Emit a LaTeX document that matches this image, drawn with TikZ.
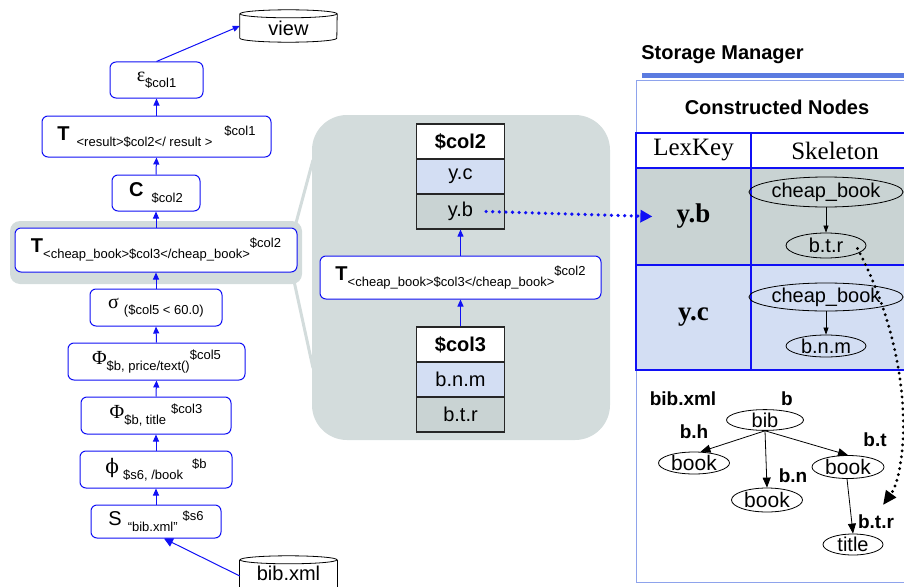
\documentclass[tikz,border=0pt]{standalone}
\usepackage{fontspec}
\setmainfont{Liberation Sans}
\newfontfamily\grk{Liberation Serif}
\newfontfamily\dvs{DejaVu Serif}
\usetikzlibrary{arrows.meta,shapes.geometric}
\definecolor{panel}{HTML}{D3DCDC}
\definecolor{cellgrey}{HTML}{C9D3D3}
\definecolor{cellblue}{HTML}{D3DEF3}
\definecolor{opblue}{HTML}{1010F5}
\definecolor{barblue}{HTML}{5B7BE0}
\definecolor{frameblue}{HTML}{8EA3EC}
\newcommand\fs[1]{\fontsize{#1}{#1}\selectfont}
\newcommand\subx[1]{\raisebox{-6pt}{\fs{13}#1}}
\newcommand\supx[1]{\raisebox{5pt}{\fs{13}#1}}
\begin{document}
\begin{tikzpicture}[x=1pt,y=-1pt,
 op/.style={draw=opblue, line width=1pt, rounded corners=6pt, fill=white, inner sep=0pt, font=\fs{20}},
 flow/.style={opblue, line width=1pt, -{Triangle[length=7pt,width=6pt]}},
 cell/.style={draw=black!85, line width=1.2pt, minimum width=88pt, minimum height=35pt, inner sep=0pt, font=\fs{20}},
 smcell/.style={draw=opblue, line width=1.2pt, inner sep=0pt},
 ell/.style={ellipse, draw, line width=0.8pt, inner sep=0pt, font=\fs{20}},
 tarr/.style={-{Triangle[length=10pt,width=8pt]}, line width=0.8pt},
 lab/.style={font=\bfseries\fs{19}, inner sep=0pt},
 drum/.style={minimum width=97pt, inner sep=0pt, font=\fs{20}},
]
\useasboundingbox (0,0) rectangle (904,586);
\clip (0,0) rectangle (904,586);

% ---------- middle panel and its link to the highlighted operator
\fill[panel, rounded corners=35pt] (312,115) rectangle (610,440);
\draw[panel, line width=3pt] (296,223) -- (313,160);
\draw[panel, line width=3pt] (294,281) -- (313,368);
\fill[panel, rounded corners=10pt] (10,221) rectangle (302,284);

% ---------- left operator column
\node[drum, minimum height=24pt] (view) at (288.5,26) {};
\draw[fill=white, line width=0.8pt] (view.north west) -- (view.south west)
  arc[start angle=180, end angle=0, x radius=48.5, y radius=4] -- (view.north east);
\draw[line width=0.8pt] (view.north) ellipse[x radius=48.5, y radius=4];
\node[drum] at ([yshift=-2pt]view) {view};

\node[op, minimum width=93pt, minimum height=36pt] (eps) at (156.5,80)
  {{\grk ε}\subx{\$col1}};
\node[op, minimum width=229pt, minimum height=41pt] (tres) at (156.5,136.5)
  {\textbf{T}\hspace{7pt}\subx{<result>\$col2</ result >}\hspace{12pt}\supx{\$col1}};
\node[op, minimum width=88pt, minimum height=36pt] (cc) at (156,193)
  {\textbf{C}\hspace{8pt}\subx{\$col2}};
\node[op, minimum width=282pt, minimum height=44pt] (tcb) at (156,250)
  {\textbf{T}\subx{<cheap\_book>\$col3</cheap\_book>}\supx{\$col2}};
\node[op, minimum width=132pt, minimum height=37pt] (sig) at (156,307.5)
  {{\grk σ}\hspace{5pt}\subx{(\$col5 < 60.0)}};
\node[op, minimum width=177pt, minimum height=37pt] (phip) at (156.5,361.5)
  {{\grk Φ}\subx{\$b, price/text()}\supx{\$col5}};
\node[op, minimum width=150pt, minimum height=37pt] (phit) at (156,415.5)
  {{\grk Φ}\subx{\$b, title}\hspace{5pt}\supx{\$col3}};
\node[op, minimum width=152pt, minimum height=37pt] (phis) at (156,469.5)
  {{\dvs ϕ}\hspace{4pt}\subx{\$s6, /book}\hspace{9pt}\supx{\$b}};
\node[op, minimum width=130pt, minimum height=33pt] (scan) at (156,521.5)
  {S\hspace{6pt}\subx{“bib.xml”}\hspace{5pt}\supx{\$s6}};

\node[drum, minimum height=32pt] (bibx) at (288.5,576) {};
\draw[fill=white, line width=0.8pt] (bibx.north west) -- (bibx.south west)
  -- (bibx.south east) -- (bibx.north east);
\draw[line width=0.8pt] (bibx.north) ellipse[x radius=48.5, y radius=4];
\node[drum] at ([yshift=3pt]bibx) {bib.xml};

\draw[flow] (eps.north) -- (view.west);
\draw[flow] (tres.north) -- (eps.south);
\draw[flow] (cc.north) -- (tres.south);
\draw[flow] (tcb.north) -- (cc.south);
\draw[flow] (sig.north) -- (tcb.south);
\draw[flow] (phip.north) -- (sig.south);
\draw[flow] (phit.north) -- (phip.south);
\draw[flow] (phis.north) -- (phit.south);
\draw[flow] (scan.north) -- (phis.south);
\draw[flow, -{Triangle[length=9pt,width=9pt]}] (bibx.west) -- ([xshift=8pt]scan.south);

% ---------- middle detail
\node[cell, fill=white, font=\bfseries\fs{20}] (c2h) at (460.5,141.5) {\$col2};
\node[cell, fill=cellblue] (yc) at (460.5,176.5) {y.c};
\node[cell, fill=cellgrey] (yb) at (460.5,211.5) {y.b};
\node[op, minimum width=281pt, minimum height=43pt] (mt) at (460.5,277.5)
  {\textbf{T}\subx{<cheap\_book>\$col3</cheap\_book>}\supx{\$col2}};
\node[cell, fill=white, font=\bfseries\fs{20}] (c3h) at (460.5,344.5) {\$col3};
\node[cell, fill=cellblue] (bnmc) at (460.5,379.5) {b.n.m};
\node[cell, fill=cellgrey] (btrc) at (460.5,414.5) {b.t.r};
\draw[flow] (mt.north) -- (yb.south);
\draw[flow] (c3h.north) -- (mt.south);

% ---------- storage manager
\node[font=\bfseries\fs{20}, inner sep=0pt] (smt) at (722.5,55) {Storage Manager};
\fill[barblue] (642,73) rectangle (904,78);
\draw[frameblue, line width=1pt] (904,80) -- (636,80) -- (636,582) -- (904,582);
\node[font=\bfseries\fs{20}, inner sep=0pt] (cn) at (777,107) {Constructed Nodes};

\node[smcell, minimum width=115pt, minimum height=35pt, font=\grk\fs{25}] (lkh) at (693.5,150.5) {LexKey};
\node[smcell, minimum width=168pt, minimum height=35pt, font=\grk\fs{25}] (skh) at (835,150.5) {Skeleton};
\node[smcell, fill=cellgrey, minimum width=115pt, minimum height=97pt, font=\grk\bfseries\fs{27}] (lxb) at (693.5,216.5) {y.b};
\node[smcell, fill=cellgrey, minimum width=168pt, minimum height=97pt] (skb) at (835,216.5) {};
\node[smcell, fill=cellblue, minimum width=115pt, minimum height=105pt, font=\grk\bfseries\fs{27}] (lxc) at (693.5,317.5) {y.c};
\node[smcell, fill=cellblue, minimum width=168pt, minimum height=105pt] (skc) at (835,317.5) {};

\node[ell, minimum width=134pt, minimum height=30pt] (cb1) at (826,192) {cheap\_book};
\node[ell, minimum width=80pt, minimum height=25pt] (btr1) at (826,245.5) {b.t.r};
\node[ell, minimum width=134pt, minimum height=28pt] (cb2) at (826,297) {cheap\_book};
\node[ell, minimum width=80pt, minimum height=22pt] (bnm) at (826,346) {b.n.m};
\draw[-{Triangle[length=7pt,width=5pt]}, line width=0.7pt] (cb1.south) -- (btr1.north);
\draw[-{Triangle[length=7pt,width=5pt]}, line width=0.7pt] (cb2.south) -- (bnm.north);

% tree of bib.xml
\node[lab] (lbx) at (683,399) {bib.xml};
\node[lab] (lb) at (787,399) {b};
\node[ell, minimum width=77pt, minimum height=20pt] (bibn) at (765,420) {bib};
\node[lab] (lbh) at (694,432) {b.h};
\node[ell, minimum width=71pt, minimum height=22pt, font=\fs{21}] (bk1) at (694,463) {book};
\node[ell, minimum width=71pt, minimum height=24pt, font=\fs{21}] (bk2) at (767,500) {book};
\node[lab] (lbn) at (793,476) {b.n};
\node[ell, minimum width=72pt, minimum height=23pt, font=\fs{21}] (bk3) at (848,467) {book};
\node[lab] (lbt) at (875,440) {b.t};
\node[ell, minimum width=60pt, minimum height=21pt] (ttl) at (853,544.5) {title};
\node[lab] (lbtr) at (876,522) {b.t.r};
\draw[tarr] (bibn.south) -- (bk1.60);
\draw[tarr] (bibn.south) -- (bk2.north);
\draw[tarr] (bibn.south) -- (bk3.north);
\draw[tarr] ([xshift=-1pt]bk3.south) -- (ttl.north);

% ---------- dotted references
\draw[opblue, line width=3.6pt, line cap=round, dash pattern=on 0pt off 6.6pt,
  -{Triangle[length=12pt,width=12pt]}] ([xshift=-19pt]yb.east) -- ([xshift=17pt]lxb.west);
\coordinate (dtip) at (883,505);
\draw[black, line width=3.2pt, line cap=round, dash pattern=on 0pt off 6pt,
  -{Triangle[length=14pt,width=12pt]}] ([shift={(-9,3)}]btr1.east)
  .. controls (890,310) and (906,380) .. (903,440)
  .. controls (901,470) and (896,487) .. (dtip);
\end{tikzpicture}
\end{document}
